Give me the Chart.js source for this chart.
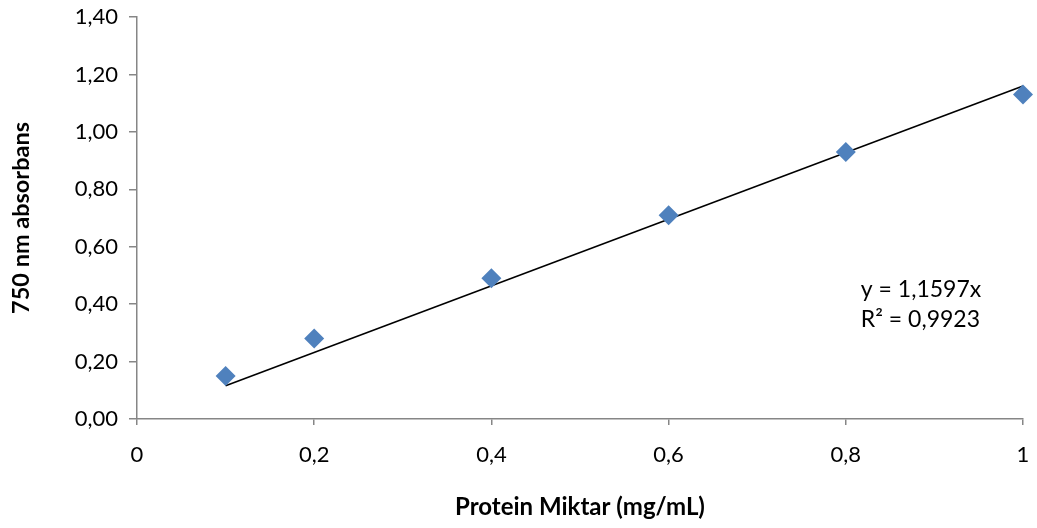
<!DOCTYPE html>
<html><head><meta charset="utf-8">
<script src="https://cdn.jsdelivr.net/npm/chart.js@4.4.1/dist/chart.umd.min.js"></script>
<style>html,body{margin:0;padding:0;background:#fff}#wrap{width:1037px;height:528px}</style>
</head><body><div id="wrap"><canvas id="c" width="1037" height="528"></canvas></div>
<script>
const xValues = [0.1, 0.2, 0.4, 0.6, 0.8, 1.0];
const yValues = [0.15, 0.28, 0.49, 0.71, 0.93, 1.13];
const slope = 1.1597;
const trendX = [0.1, 1.0];
const equationLines = ['y = 1,1597x', 'R² = 0,9923'];
const xTitle = 'Protein Miktar (mg/mL)';
const yTitle = '750 nm absorbans';
const FONT = 'Lato, "Open Sans", sans-serif';
const AX = '#868686';

const comma = (v, d) => v.toFixed(d).replace('.', ',');

const eqPlugin = {
  id: 'eq',
  afterDatasetsDraw(chart) {
    const {ctx, scales: {x, y}} = chart;
    ctx.save();
    ctx.font = '23px ' + FONT;
    ctx.fillStyle = '#000';
    ctx.textAlign = 'left';
    ctx.textBaseline = 'middle';
    const px = x.getPixelForValue(0.817);
    const py = y.getPixelForValue(0.449);
    equationLines.forEach((t, i) => ctx.fillText(t, px, py + i * 30));
    ctx.restore();
  }
};

new Chart(document.getElementById('c'), {
  type: 'scatter',
  data: {
    datasets: [
      {
        data: xValues.map((x, i) => ({x, y: yValues[i]})),
        pointStyle: 'rectRot', radius: 10, hoverRadius: 10,
        backgroundColor: '#4F81BD', borderColor: '#4F81BD', borderWidth: 0,
        clip: false, order: 1
      },
      {
        type: 'line',
        data: trendX.map(x => ({x, y: slope * x})),
        borderColor: '#000', borderWidth: 1.6, pointRadius: 0, fill: false,
        clip: false, order: 2
      }
    ]
  },
  options: {
    responsive: false, animation: false,
    layout: {padding: {left: 0, right: 14, top: 17, bottom: 0}},
    plugins: {legend: {display: false}, tooltip: {enabled: false}},
    scales: {
      x: {
        type: 'linear', min: 0, max: 1,
        afterFit(s) { s.height = 109; s.paddingLeft = 0; s.paddingRight = 0; },
        ticks: {stepSize: 0.2, padding: 17, color: '#000', font: {family: FONT, size: 22},
          callback: v => v === 0 ? '0' : (v === 1 ? '1' : comma(v, 1))},
        grid: {drawOnChartArea: false, drawTicks: true, tickLength: 6, color: AX, lineWidth: 1.5},
        border: {display: true, color: AX, width: 1.5},
        title: {display: true, text: xTitle, color: '#000', font: {family: FONT, size: 24, weight: 'bold'}, padding: {top: 0, bottom: 6}}
      },
      y: {
        min: 0, max: 1.4,
        afterFit(s) { s.width = 137; s.paddingTop = 0; s.paddingBottom = 0; },
        ticks: {stepSize: 0.2, padding: 11, color: '#000', font: {family: FONT, size: 22},
          callback: v => comma(v, 2)},
        grid: {drawOnChartArea: false, drawTicks: true, tickLength: 8, color: AX, lineWidth: 1.5},
        border: {display: true, color: AX, width: 1.5},
        title: {display: true, text: yTitle, color: '#000', font: {family: FONT, size: 23.5, weight: 'bold'}, padding: {top: 7, bottom: 0}}
      }
    }
  },
  plugins: [eqPlugin]
});
</script></body></html>
